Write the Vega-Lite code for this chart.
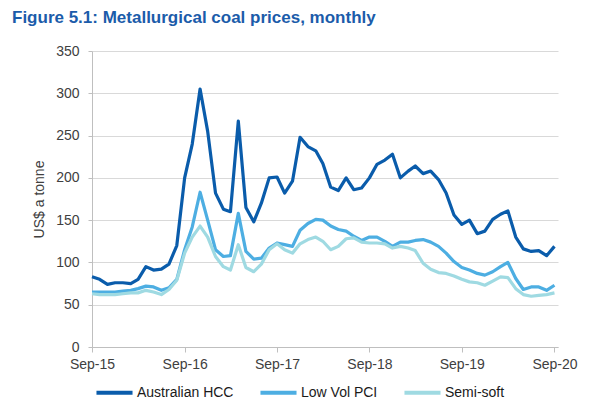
{
  "$schema": "https://vega.github.io/schema/vega-lite/v6.json",
  "width": 466,
  "height": 296,
  "autosize": {"type": "none"},
  "padding": {"left": 92, "top": 51, "right": 48, "bottom": 61},
  "background": "white",
  "title": {
    "text": "Figure 5.1: Metallurgical coal prices, monthly",
    "anchor": "start",
    "frame": "group",
    "dx": -80,
    "dy": -13,
    "font": "Liberation Sans",
    "fontSize": 17,
    "fontWeight": "bold",
    "color": "#1B5CAA"
  },
  "data": {
    "values": [
      {"d": "2015-09-01", "Australian HCC": 83, "Low Vol PCI": 65, "Semi-soft": 63},
      {"d": "2015-10-01", "Australian HCC": 80, "Low Vol PCI": 65, "Semi-soft": 62},
      {"d": "2015-11-01", "Australian HCC": 74, "Low Vol PCI": 65, "Semi-soft": 62},
      {"d": "2015-12-01", "Australian HCC": 76, "Low Vol PCI": 65, "Semi-soft": 62},
      {"d": "2016-01-01", "Australian HCC": 76, "Low Vol PCI": 66, "Semi-soft": 63},
      {"d": "2016-02-01", "Australian HCC": 75, "Low Vol PCI": 67, "Semi-soft": 64},
      {"d": "2016-03-01", "Australian HCC": 80, "Low Vol PCI": 69, "Semi-soft": 64},
      {"d": "2016-04-01", "Australian HCC": 95, "Low Vol PCI": 72, "Semi-soft": 67},
      {"d": "2016-05-01", "Australian HCC": 91, "Low Vol PCI": 71, "Semi-soft": 65},
      {"d": "2016-06-01", "Australian HCC": 92, "Low Vol PCI": 67, "Semi-soft": 62},
      {"d": "2016-07-01", "Australian HCC": 98, "Low Vol PCI": 70, "Semi-soft": 68},
      {"d": "2016-08-01", "Australian HCC": 120, "Low Vol PCI": 80, "Semi-soft": 79},
      {"d": "2016-09-01", "Australian HCC": 200, "Low Vol PCI": 115, "Semi-soft": 111},
      {"d": "2016-10-01", "Australian HCC": 240, "Low Vol PCI": 142, "Semi-soft": 130},
      {"d": "2016-11-01", "Australian HCC": 305, "Low Vol PCI": 183, "Semi-soft": 143},
      {"d": "2016-12-01", "Australian HCC": 255, "Low Vol PCI": 150, "Semi-soft": 130},
      {"d": "2017-01-01", "Australian HCC": 182, "Low Vol PCI": 115, "Semi-soft": 107},
      {"d": "2017-02-01", "Australian HCC": 163, "Low Vol PCI": 107, "Semi-soft": 95},
      {"d": "2017-03-01", "Australian HCC": 160, "Low Vol PCI": 108, "Semi-soft": 91},
      {"d": "2017-04-01", "Australian HCC": 267, "Low Vol PCI": 158, "Semi-soft": 121},
      {"d": "2017-05-01", "Australian HCC": 165, "Low Vol PCI": 113, "Semi-soft": 94},
      {"d": "2017-06-01", "Australian HCC": 148, "Low Vol PCI": 104, "Semi-soft": 89},
      {"d": "2017-07-01", "Australian HCC": 170, "Low Vol PCI": 105, "Semi-soft": 98},
      {"d": "2017-08-01", "Australian HCC": 200, "Low Vol PCI": 117, "Semi-soft": 115},
      {"d": "2017-09-01", "Australian HCC": 201, "Low Vol PCI": 123, "Semi-soft": 122},
      {"d": "2017-10-01", "Australian HCC": 182, "Low Vol PCI": 121, "Semi-soft": 115},
      {"d": "2017-11-01", "Australian HCC": 196, "Low Vol PCI": 119, "Semi-soft": 111},
      {"d": "2017-12-01", "Australian HCC": 248, "Low Vol PCI": 138, "Semi-soft": 122},
      {"d": "2018-01-01", "Australian HCC": 237, "Low Vol PCI": 146, "Semi-soft": 127},
      {"d": "2018-02-01", "Australian HCC": 232, "Low Vol PCI": 151, "Semi-soft": 130},
      {"d": "2018-03-01", "Australian HCC": 217, "Low Vol PCI": 150, "Semi-soft": 125},
      {"d": "2018-04-01", "Australian HCC": 189, "Low Vol PCI": 143, "Semi-soft": 115},
      {"d": "2018-05-01", "Australian HCC": 185, "Low Vol PCI": 139, "Semi-soft": 119},
      {"d": "2018-06-01", "Australian HCC": 200, "Low Vol PCI": 137, "Semi-soft": 128},
      {"d": "2018-07-01", "Australian HCC": 186, "Low Vol PCI": 131, "Semi-soft": 129},
      {"d": "2018-08-01", "Australian HCC": 188, "Low Vol PCI": 126, "Semi-soft": 124},
      {"d": "2018-09-01", "Australian HCC": 200, "Low Vol PCI": 130, "Semi-soft": 123},
      {"d": "2018-10-01", "Australian HCC": 216, "Low Vol PCI": 130, "Semi-soft": 123},
      {"d": "2018-11-01", "Australian HCC": 221, "Low Vol PCI": 125, "Semi-soft": 122},
      {"d": "2018-12-01", "Australian HCC": 228, "Low Vol PCI": 119, "Semi-soft": 117},
      {"d": "2019-01-01", "Australian HCC": 200, "Low Vol PCI": 124, "Semi-soft": 119},
      {"d": "2019-02-01", "Australian HCC": 208, "Low Vol PCI": 124, "Semi-soft": 117},
      {"d": "2019-03-01", "Australian HCC": 214, "Low Vol PCI": 126, "Semi-soft": 114},
      {"d": "2019-04-01", "Australian HCC": 205, "Low Vol PCI": 127, "Semi-soft": 99},
      {"d": "2019-05-01", "Australian HCC": 208, "Low Vol PCI": 124, "Semi-soft": 92},
      {"d": "2019-06-01", "Australian HCC": 198, "Low Vol PCI": 119, "Semi-soft": 88},
      {"d": "2019-07-01", "Australian HCC": 182, "Low Vol PCI": 111, "Semi-soft": 87},
      {"d": "2019-08-01", "Australian HCC": 156, "Low Vol PCI": 101, "Semi-soft": 84},
      {"d": "2019-09-01", "Australian HCC": 145, "Low Vol PCI": 94, "Semi-soft": 80},
      {"d": "2019-10-01", "Australian HCC": 150, "Low Vol PCI": 91, "Semi-soft": 77},
      {"d": "2019-11-01", "Australian HCC": 134, "Low Vol PCI": 87, "Semi-soft": 76},
      {"d": "2019-12-01", "Australian HCC": 137, "Low Vol PCI": 85, "Semi-soft": 73},
      {"d": "2020-01-01", "Australian HCC": 151, "Low Vol PCI": 89, "Semi-soft": 78},
      {"d": "2020-02-01", "Australian HCC": 157, "Low Vol PCI": 95, "Semi-soft": 83},
      {"d": "2020-03-01", "Australian HCC": 161, "Low Vol PCI": 100, "Semi-soft": 82},
      {"d": "2020-04-01", "Australian HCC": 130, "Low Vol PCI": 81, "Semi-soft": 69},
      {"d": "2020-05-01", "Australian HCC": 116, "Low Vol PCI": 68, "Semi-soft": 62},
      {"d": "2020-06-01", "Australian HCC": 113, "Low Vol PCI": 71, "Semi-soft": 60},
      {"d": "2020-07-01", "Australian HCC": 114, "Low Vol PCI": 71, "Semi-soft": 61},
      {"d": "2020-08-01", "Australian HCC": 108, "Low Vol PCI": 67, "Semi-soft": 62},
      {"d": "2020-09-01", "Australian HCC": 119, "Low Vol PCI": 73, "Semi-soft": 64}
    ]
  },
  "transform": [
    {"fold": ["Australian HCC", "Low Vol PCI", "Semi-soft"], "as": ["series", "value"]}
  ],
  "mark": {"type": "line", "strokeWidth": 3.2, "strokeJoin": "round"},
  "encoding": {
    "x": {
      "field": "d",
      "type": "temporal",
      "scale": {
        "type": "utc",
        "domain": [
          {"year": 2015, "month": 9, "date": 1, "utc": true},
          {"year": 2020, "month": 9, "date": 15, "utc": true}
        ]
      },
      "axis": {
        "title": null,
        "format": "%b-%y",
        "values": [
          {"year": 2015, "month": 9, "date": 1, "utc": true},
          {"year": 2016, "month": 9, "date": 1, "utc": true},
          {"year": 2017, "month": 9, "date": 1, "utc": true},
          {"year": 2018, "month": 9, "date": 1, "utc": true},
          {"year": 2019, "month": 9, "date": 1, "utc": true},
          {"year": 2020, "month": 9, "date": 1, "utc": true}
        ],
        "grid": false,
        "domainColor": "#BFBFBF",
        "tickColor": "#BFBFBF",
        "tickSize": 5,
        "labelFont": "Liberation Sans",
        "labelFontSize": 14,
        "labelColor": "#404040",
        "labelPadding": 5,
        "labelFlush": false
      }
    },
    "y": {
      "field": "value",
      "type": "quantitative",
      "scale": {"domain": [0, 350], "nice": false},
      "axis": {
        "title": "US$ a tonne",
        "titleFont": "Liberation Sans",
        "titleFontSize": 14,
        "titleFontWeight": "normal",
        "titleColor": "#404040",
        "titlePadding": 9,
        "values": [0, 50, 100, 150, 200, 250, 300, 350],
        "gridColor": "#D9D9D9",
        "gridWidth": 1,
        "domainColor": "#BFBFBF",
        "tickColor": "#BFBFBF",
        "tickSize": 4,
        "labelFont": "Liberation Sans",
        "labelFontSize": 14,
        "labelColor": "#404040",
        "labelPadding": 9
      }
    },
    "color": {
      "field": "series",
      "type": "nominal",
      "scale": {
        "domain": ["Australian HCC", "Low Vol PCI", "Semi-soft"],
        "range": ["#0A5CAB", "#4DAEE2", "#9FDAE2"]
      },
      "legend": {
        "title": null,
        "orient": "none",
        "direction": "horizontal",
        "legendX": 2,
        "legendY": 321,
        "symbolType": "stroke",
        "symbolStrokeWidth": 4,
        "symbolSize": 1300,
        "labelFont": "Liberation Sans",
        "labelFontSize": 14,
        "labelColor": "#1a1a1a",
        "labelOffset": 2,
        "columnPadding": 18
      }
    }
  },
  "config": {
    "view": {"stroke": null}
  }
}
